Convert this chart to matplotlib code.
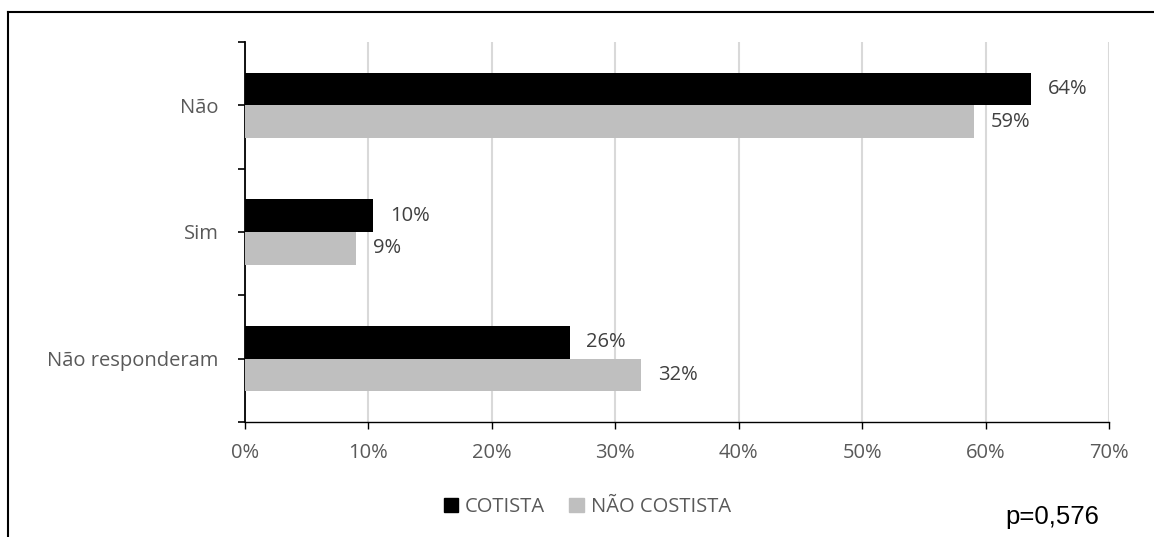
import matplotlib.pyplot as plt
from matplotlib.lines import Line2D
from matplotlib.patches import Patch
import numpy as np

# Respostas por grupo (fração)
categorias = ["Não", "Sim", "Não responderam"]
cotista = [0.637, 0.104, 0.263]
nao_cotista = [0.591, 0.090, 0.321]
series_nomes = ["COTISTA", "NÃO COSTISTA"]
x_ticks = [0, 0.1, 0.2, 0.3, 0.4, 0.5, 0.6, 0.7]

cor_preta = "#000000"
cor_cinza = "#bfbfbf"
cor_texto = "#595959"
fonte = "Open Sans"
tam = 14.5

fig = plt.figure(figsize=(11.54, 5.37), dpi=100)
ax = fig.add_axes([0.2123, 0.2142, 0.7487, 0.7076])

# categorias de cima para baixo
n = len(categorias)
ys = np.arange(n)[::-1].astype(float)
h = 0.257

ax.barh(ys + h / 2, cotista, height=h, color=cor_preta, zorder=3)
ax.barh(ys - h / 2, nao_cotista, height=h, color=cor_cinza, zorder=3)

for y, v in zip(ys, cotista):
    ax.text(v + 0.0135, y + h / 2, f"{v*100:.0f}%", va="center", ha="left",
            fontsize=tam, color="#404040", family=fonte)
for y, v in zip(ys, nao_cotista):
    ax.text(v + 0.0135, y - h / 2, f"{v*100:.0f}%", va="center", ha="left",
            fontsize=tam, color="#404040", family=fonte)

ax.set_xlim(0, 0.7)
ax.set_ylim(-0.5, n - 0.5)
ax.set_xticks(x_ticks)
ax.set_xticklabels([f"{t*100:.0f}%" for t in x_ticks], family=fonte,
                   fontsize=tam, color=cor_texto)
ax.tick_params(axis="x", length=5, width=1, color="black", pad=10)
ax.xaxis.grid(True, color="#d9d9d9", linewidth=1.5, zorder=0)

# rótulos das categorias no centro, marcas nos limites
ax.set_yticks(np.arange(-0.5, n, 1.0))
ax.set_yticklabels([])
ax.tick_params(axis="y", length=5, width=1.2, color="black")
ax.set_yticks(ys, minor=True)
ax.set_yticklabels(categorias, minor=True, family=fonte, fontsize=tam,
                   color=cor_texto)
ax.tick_params(axis="y", which="minor", length=5, width=1.2, pad=14)

for s in ["top", "right"]:
    ax.spines[s].set_visible(False)
ax.spines["left"].set_linewidth(1.3)
ax.spines["bottom"].set_linewidth(1.0)

handles = [Patch(color=cor_preta, label=series_nomes[0]),
           Patch(color=cor_cinza, label=series_nomes[1])]
fig.legend(handles=handles, loc="center", bbox_to_anchor=(0.509, 0.056),
           ncol=2, frameon=False, handlelength=0.7, handleheight=0.7,
           handletextpad=0.35, columnspacing=1.2,
           prop={"family": fonte, "size": tam}, labelcolor=cor_texto)

fig.text(0.871, 0.038, "p=0,576", family="Liberation Sans", fontsize=18.5,
         color="black", ha="left", va="center")

# moldura parcial da figura
fig.add_artist(Line2D([0.007, 0.007], [0, 0.978], color="black", lw=1.5,
                      transform=fig.transFigure))
fig.add_artist(Line2D([0.007, 1.0], [0.978, 0.978], color="black", lw=1.5,
                      transform=fig.transFigure))

fig.savefig("out.png", dpi=100)
